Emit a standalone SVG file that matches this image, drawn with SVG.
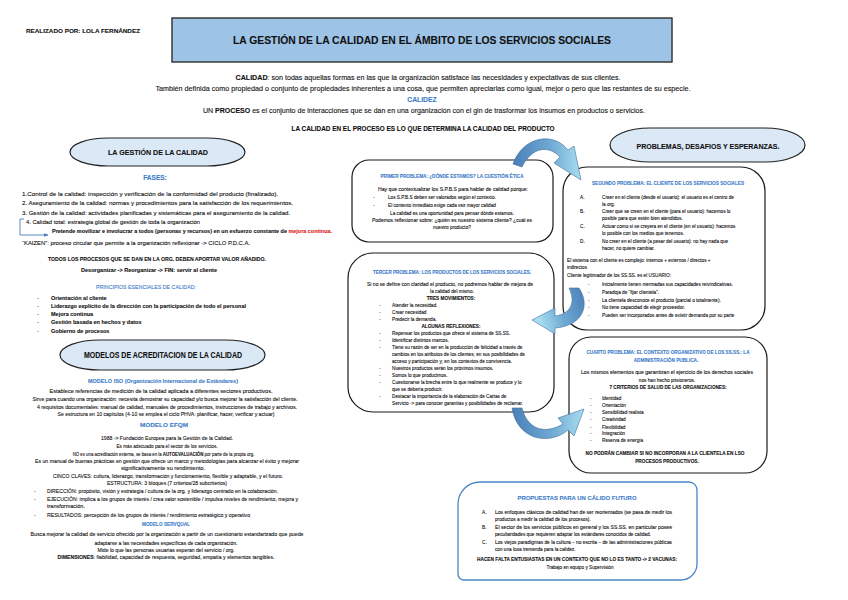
<svg xmlns="http://www.w3.org/2000/svg" width="848" height="600" viewBox="0 0 848 600">
<defs>
<style>
.t{font-family:"Liberation Sans",Arial,sans-serif;fill:#111;stroke:#111;stroke-width:0.1}
.l{font-size:5.5px}
.x{font-size:4.7px}
.b{font-weight:bold}
.bl{fill:#3d7cc9;stroke:#3d7cc9;font-weight:bold}
.c{text-anchor:middle}
.red{fill:#e0201b;stroke:#e0201b}
.pill{fill:#dbe8f5;stroke:#222;stroke-width:1.2}
.box{fill:#fff;stroke:#1a1a1a;stroke-width:1.2}
.arr{stroke:#41719c;stroke-width:0.6}
</style>
<linearGradient id="gR" x1="0" y1="0" x2="1" y2="0">
<stop offset="0" stop-color="#4a7fb8"/><stop offset="0.55" stop-color="#6fa9d3"/><stop offset="1" stop-color="#a8def0"/>
</linearGradient>
<linearGradient id="gL" x1="1" y1="0" x2="0" y2="0.3">
<stop offset="0" stop-color="#4a7fb8"/><stop offset="0.55" stop-color="#6fa9d3"/><stop offset="1" stop-color="#a8def0"/>
</linearGradient>
<marker id="ah" viewBox="0 0 10 10" refX="9" refY="5" markerWidth="5" markerHeight="5" orient="auto">
<path d="M0,1 L10,5 L0,9 Z" fill="#4a7ebb"/>
</marker>
</defs>
<rect width="848" height="600" fill="#fff"/>

<g id="header">
<text class="t b" x="26" y="33" font-size="6.2" textLength="114" lengthAdjust="spacingAndGlyphs">REALIZADO POR: LOLA FERNÁNDEZ</text>
</g>

<g id="title">
<rect x="172" y="18" width="500" height="44" fill="#9dc3e6" stroke="#3a3a3a" stroke-width="1.5"/>
<text class="t b c" x="422" y="44" font-size="11.5" textLength="378" lengthAdjust="spacingAndGlyphs">LA GESTIÓN DE LA CALIDAD EN EL ÁMBITO DE LOS SERVICIOS SOCIALES</text>
</g>

<g id="intro" class="t c" font-size="6.8">
<text x="428" y="80" textLength="385" lengthAdjust="spacingAndGlyphs"><tspan class="b">CALIDAD</tspan>: son todas aquellas formas en las que la organización satisface las necesidades y expectativas de sus clientes.</text>
<text x="423" y="91" textLength="535" lengthAdjust="spacingAndGlyphs">También definida como propiedad o conjunto de propiedades inherentes a una cosa, que permiten apreciarlas como igual, mejor o pero que las restantes de su especie.</text>
<text class="bl" x="422" y="102">CALIDEZ</text>
<text x="424" y="113" textLength="442" lengthAdjust="spacingAndGlyphs">UN <tspan class="b">PROCESO</tspan> es el conjunto de interacciones que se dan en una organización con el gin de trasformar los insumos en productos o servicios.</text>
<text class="b" x="423" y="131" textLength="263" lengthAdjust="spacingAndGlyphs">LA CALIDAD EN EL PROCESO ES LO QUE DETERMINA LA CALIDAD DEL PRODUCTO</text>
</g>

<g id="gestion-pill">
<rect class="pill" x="70" y="138" width="175" height="28" rx="38" ry="14"/>
<text class="t b c" x="158" y="155" font-size="8" textLength="100" lengthAdjust="spacingAndGlyphs">LA GESTIÓN DE LA CALIDAD</text>
</g>

<g id="fases" class="t l">
<text class="bl c" x="155" y="180" font-size="6.5">FASES:</text>
<text x="22" y="196" textLength="256" lengthAdjust="spacingAndGlyphs">1.Control de la calidad: inspección y verificación de la conformidad del producto (finalizado).</text>
<text x="22" y="205" textLength="271" lengthAdjust="spacingAndGlyphs">2. Aseguramiento de la calidad: normas y procedimientos para la satisfacción de los requerimientos.</text>
<text x="22" y="215" textLength="268" lengthAdjust="spacingAndGlyphs">3. Gestión de la calidad: actividades planificadas y sistemáticas para el aseguramiento de la calidad.</text>
<text x="26" y="224" textLength="174" lengthAdjust="spacingAndGlyphs">4. Calidad total: estrategia global de gestión de toda la organización</text>
<text class="b" x="52" y="233" textLength="280" lengthAdjust="spacingAndGlyphs">Pretende movilizar e involucrar a todos (personas y recursos) en un esfuerzo constante de <tspan class="red">mejora continua.</tspan></text>
<text x="22" y="245" textLength="228" lengthAdjust="spacingAndGlyphs">“KAIZEN”: proceso circular que permite a la organización reflexionar -&gt; CICLO P.D.C.A.</text>
<text class="b c" x="157" y="261" textLength="218" lengthAdjust="spacingAndGlyphs">TODOS LOS PROCESOS QUE SE DAN EN LA ORG. DEBEN APORTAR VALOR AÑADIDO.</text>
<text class="b c" x="149" y="272" textLength="136" lengthAdjust="spacingAndGlyphs">Desorganizar -&gt; Reorganizar -&gt; FIN: servir al cliente</text>
</g>

<g id="principios" class="t l">
<text class="bl c" x="146" y="289" style="font-weight:normal" textLength="100" lengthAdjust="spacingAndGlyphs">PRINCIPIOS ESENCIALES DE CALIDAD:</text>
<text x="37" y="300">-</text><text class="b" x="51" y="300">Orientación al cliente</text>
<text x="37" y="308">-</text><text class="b" x="51" y="308" textLength="195" lengthAdjust="spacingAndGlyphs">Liderazgo explícito de la dirección con la participación de todo el personal</text>
<text x="37" y="316">-</text><text class="b" x="51" y="316">Mejora continua</text>
<text x="37" y="324">-</text><text class="b" x="51" y="324">Gestión basada en hechos y datos</text>
<text x="37" y="333">-</text><text class="b" x="51" y="333">Gobierno de procesos</text>
</g>

<g id="modelos-pill">
<rect class="pill" x="60" y="340" width="205" height="30" rx="40" ry="15"/>
<text class="t b c" x="163" y="358" font-size="8.5" textLength="158" lengthAdjust="spacingAndGlyphs">MODELOS DE ACREDITACION DE LA CALIDAD</text>
</g>

<g id="modelos" class="t l c">
<text class="bl" x="163" y="383" textLength="150" lengthAdjust="spacingAndGlyphs">MODELO ISO (Organización Internacional de Estándares)</text>
<text x="161" y="393" textLength="223" lengthAdjust="spacingAndGlyphs">Establece referencias de medición de la calidad aplicada a diferentes sectores productivos.</text>
<text x="165" y="401" textLength="265" lengthAdjust="spacingAndGlyphs">Sirve para cuando una organización: necesita demostrar su capacidad y/o busca mejorar la satisfacción del cliente.</text>
<text x="167" y="409" textLength="260" lengthAdjust="spacingAndGlyphs">4 requisitos documentales: manual de calidad, manuales de procedimientos, instrucciones de trabajo y archivos.</text>
<text x="166" y="416" textLength="217" lengthAdjust="spacingAndGlyphs">Se estructura en 10 capítulos (4-10 se emplea el ciclo PHVA: planificar, hacer, verificar y actuar)</text>
<text class="bl" x="164" y="427" textLength="48" lengthAdjust="spacingAndGlyphs">MODELO EFQM</text>
<text x="167" y="440" textLength="132" lengthAdjust="spacingAndGlyphs">1988 -&gt; Fundación Europea para la Gestión de la Calidad.</text>
<text x="167" y="448" textLength="101" lengthAdjust="spacingAndGlyphs">Es más adecuado para el sector de los servicios.</text>
<text transform="translate(163.5,456) scale(0.79,1)">NO es una acreditación externa, se basa en la <tspan class="b">AUTOEVALUACIÓN</tspan> por parte de la propia org.</text>
<text x="167" y="463" textLength="264" lengthAdjust="spacingAndGlyphs">Es un manual de buenas prácticas en gestión que ofrece un marco y metodologías para alcanzar el éxito y mejorar</text>
<text x="163" y="470" textLength="84" lengthAdjust="spacingAndGlyphs">significativamente su rendimiento.</text>
<text x="168" y="478" textLength="230" lengthAdjust="spacingAndGlyphs">CINCO CLAVES: cultura, liderazgo, transformación y funcionamiento, flexible y adaptable, y el futuro.</text>
<text x="167" y="485" textLength="120" lengthAdjust="spacingAndGlyphs">ESTRUCTURA: 3 bloques (7 criterios/28 subcriterios)</text>
<text class="bl" x="166" y="526" textLength="48" lengthAdjust="spacingAndGlyphs">MODELO SERVQUAL</text>
<text x="167" y="536" textLength="273" lengthAdjust="spacingAndGlyphs">Busca mejorar la calidad de servicio ofrecido por la organización a partir de un cuestionario estandarizado que puede</text>
<text x="166" y="545" textLength="143" lengthAdjust="spacingAndGlyphs">adaptarse a las necesidades específicas de cada organización.</text>
<text x="166" y="552" textLength="137" lengthAdjust="spacingAndGlyphs">Mide lo que las personas usuarias esperan del servicio / org.</text>
<text x="166" y="559" textLength="217" lengthAdjust="spacingAndGlyphs"><tspan class="b">DIMENSIONES</tspan>: fiabilidad, capacidad de respuesta, seguridad, empatía y elementos tangibles.</text>
</g>
<g id="efqm-list" class="t l">
<text x="34" y="493">-</text><text x="47" y="493" textLength="231" lengthAdjust="spacingAndGlyphs">DIRECCIÓN: propósito, visión y estrategia / cultura de la org. y liderazgo centrado en la colaboración.</text>
<text x="34" y="501">-</text><text x="47" y="501" textLength="251" lengthAdjust="spacingAndGlyphs">EJECUCIÓN: implica a los grupos de interés / crea valor sostenible / impulsa niveles de rendimiento, mejora y</text>
<text x="47" y="508">transformación.</text>
<text x="34" y="517">-</text><text x="47" y="517" textLength="203" lengthAdjust="spacingAndGlyphs">RESULTADOS: percepción de los grupos de interés / rendimiento estratégico y operativo</text>
</g>

<g id="problemas-pill">
<rect class="pill" x="610" y="128" width="195" height="34" rx="40" ry="17"/>
<text class="t b c" x="708" y="149" font-size="8" textLength="143" lengthAdjust="spacingAndGlyphs">PROBLEMAS, DESAFIOS Y ESPERANZAS.</text>
</g>

<g id="problema1" class="t x">
<rect class="box" x="352" y="160" width="201" height="82" rx="17"/>
<text class="bl c" x="452" y="178" textLength="143" lengthAdjust="spacingAndGlyphs">PRIMER PROBLEMA: ¿DÓNDE ESTAMOS? LA CUESTIÓN ÉTICA</text>
<text class="c" x="453" y="191" textLength="150" lengthAdjust="spacingAndGlyphs">Hay que contextualizar los S.P.B.S para hablar de calidad porque:</text>
<text x="373" y="199">-</text><text x="388" y="199">Los S.P.B.S deben ser valorados según el contexto.</text>
<text x="373" y="207">-</text><text x="388" y="207">El contexto inmediato exige cada vez mayor calidad</text>
<text class="c" x="452" y="215">La calidad es una oportunidad para pensar dónde estamos.</text>
<text class="c" x="452" y="222" textLength="160" lengthAdjust="spacingAndGlyphs">Podemos reflexionar sobre: ¿quién es nuestro sistema cliente? ¿cuál es</text>
<text class="c" x="452" y="229">nuestro producto?</text>
</g>

<g id="problema2" class="t x">
<rect class="box" x="563" y="167" width="202" height="163" rx="24"/>
<text class="bl" x="592" y="185" textLength="152" lengthAdjust="spacingAndGlyphs">SEGUNDO PROBLEMA: EL CLIENTE DE LOS SERVICIOS SOCIALES</text>
<text x="580" y="199">A.</text><text x="602" y="199">Creer en el cliente (desde el usuario): el usuario es el centro de</text>
<text x="602" y="206">la org.</text>
<text x="580" y="213">B.</text><text x="602" y="213">Creer que se creen en el cliente (para el usuario): hacemos lo</text>
<text x="602" y="220">posible para que estén bien atendidos.</text>
<text x="580" y="228">C.</text><text x="602" y="228">Actuar como si se creyera en el cliente (en el usuario): hacemos</text>
<text x="602" y="235">lo posible con los medios que tenemos.</text>
<text x="580" y="243">D.</text><text x="602" y="243">No creer en el cliente (a pesar del usuario): no hay nada que</text>
<text x="602" y="250">hacer, no quiere cambiar.</text>
<text x="567" y="262">El sistema con el cliente es complejo: internos + externos / directos +</text>
<text x="567" y="269">indirectos</text>
<text x="567" y="277">Cliente legitimador de los SS.SS. es el USUARIO:</text>
<text x="588" y="286">-</text><text x="602" y="286">Inicialmente tienen mermadas sus capacidades reivindicativas.</text>
<text x="588" y="294">-</text><text x="602" y="294">Paradoja de “fijar clientela”.</text>
<text x="588" y="302">-</text><text x="602" y="302">La clientela desconoce el producto (parcial o totalmente).</text>
<text x="588" y="309">-</text><text x="602" y="309">No tiene capacidad de elegir proveedor.</text>
<text x="588" y="317">-</text><text x="602" y="317">Pueden ser incorporados antes de existir demanda por su parte</text>
</g>

<g id="problema3" class="t x">
<rect class="box" x="348" y="253" width="206" height="159" rx="25"/>
<text class="bl c" x="452" y="274" textLength="158" lengthAdjust="spacingAndGlyphs">TERCER PROBLEMA: LOS PRODUCTOS DE LOS SERVICIOS SOCIALES.</text>
<text class="c" x="450" y="286" textLength="166" lengthAdjust="spacingAndGlyphs">Si no se define con claridad el producto, no podremos hablar de mejora de</text>
<text class="c" x="452" y="293">la calidad del mismo.</text>
<text class="c b" x="451" y="300">TRES MOVIMIENTOS:</text>
<text x="379" y="307">-</text><text x="392" y="307">Atender la necesidad.</text>
<text x="379" y="314">-</text><text x="392" y="314">Crear necesidad</text>
<text x="379" y="321">-</text><text x="392" y="321">Predecir la demanda.</text>
<text class="c b" x="451" y="328">ALGUNAS REFLEXIONES:</text>
<text x="379" y="335">-</text><text x="392" y="335">Repensar los productos que ofrece el sistema de SS.SS.</text>
<text x="379" y="342">-</text><text x="392" y="342">Identificar distintos marcos.</text>
<text x="379" y="349">-</text><text x="392" y="349">Tiene su razón de ser en la producción de felicidad a través de</text>
<text x="392" y="356">cambios en los atributos de los clientes; en sus posibilidades de</text>
<text x="392" y="363">acceso y participación y; en los contextos de convivencia.</text>
<text x="379" y="370">-</text><text x="392" y="370">Nuestros productos serán los próximos insumos.</text>
<text x="379" y="377">-</text><text x="392" y="377">Somos lo que producimos.</text>
<text x="379" y="384">-</text><text x="392" y="384">Cuestionarse la brecha entre lo que realmente se produce y lo</text>
<text x="392" y="391">que se debería producir.</text>
<text x="379" y="398">-</text><text x="392" y="398">Destacar la importancia de la elaboración de Cartas de</text>
<text x="392" y="405">Servicio -&gt; para conocer garantías y posibilidades de reclamar.</text>
</g>

<g id="problema4" class="t x">
<rect class="box" x="569" y="337" width="198" height="136" rx="22"/>
<text class="bl c" x="668" y="354" textLength="163" lengthAdjust="spacingAndGlyphs">CUARTO PROBLEMA: EL CONTEXTO ORGANIZATIVO DE LOS SS.SS.: LA</text>
<text class="bl c" x="666" y="362">ADMINISTRACIÓN PUBLICA.</text>
<text class="c" x="667" y="374" textLength="172" lengthAdjust="spacingAndGlyphs">Los mismos elementos que garantizan el ejercicio de los derechos sociales</text>
<text class="c" x="667" y="382">nos han hecho prisioneros.</text>
<text class="c b" x="668" y="389" textLength="117" lengthAdjust="spacingAndGlyphs">7 CRITERIOS DE SALUD DE LAS ORGANIZACIONES:</text>
<text x="590" y="400">-</text><text x="602" y="400">Identidad</text>
<text x="590" y="407">-</text><text x="602" y="407">Orientación</text>
<text x="590" y="414">-</text><text x="602" y="414">Sensibilidad realista</text>
<text x="590" y="421">-</text><text x="602" y="421">Creatividad</text>
<text x="590" y="429">-</text><text x="602" y="429">Flexibilidad</text>
<text x="590" y="435">-</text><text x="602" y="435">Integración</text>
<text x="590" y="442">-</text><text x="602" y="442">Reserva de energía</text>
<text class="c b" x="665" y="455" textLength="159" lengthAdjust="spacingAndGlyphs">NO PODRÁN CAMBIAR SI NO INCORPORAN A LA CLIENTELA EN LSO</text>
<text class="c b" x="667" y="463">PROCESOS PRODUCTIVOS.</text>
</g>

<g id="propuestas" class="t x">
<path d="M480,482 H689 A8,8 0 0 1 697,490 V564 A16,16 0 0 1 681,580 H464 A6,6 0 0 1 458,574 V504 A22,22 0 0 1 480,482 Z" fill="#fff" stroke="#4a86c8" stroke-width="1.3"/>
<text class="bl c" x="577" y="500" font-size="6" textLength="119" lengthAdjust="spacingAndGlyphs">PROPUESTAS PARA UN CÁLIDO FUTURO</text>
<text x="482" y="514">A.</text><text x="495" y="514" textLength="177" lengthAdjust="spacingAndGlyphs">Los enfoques clásicos de calidad han de ser reorientados (se pasa de medir los</text>
<text x="495" y="521">productos a medir la calidad de los procesos).</text>
<text x="482" y="529">B.</text><text x="495" y="529" textLength="177" lengthAdjust="spacingAndGlyphs">El sector de los servicios públicos en general y los SS.SS. en particular posee</text>
<text x="495" y="536">peculiaridades que requieren adaptar los estándares conocidos de calidad.</text>
<text x="482" y="544">C.</text><text x="495" y="544" textLength="177" lengthAdjust="spacingAndGlyphs">Los viejos paradigmas de la cultura – no escrita – de las administraciones públicas</text>
<text x="495" y="551">con una losa tremenda para la calidez.</text>
<text class="c b" x="577" y="561" textLength="200" lengthAdjust="spacingAndGlyphs">HACEN FALTA ENTUSIASTAS EN UN CONTEXTO QUE NO LO ES TANTO -&gt; 2 VACUNAS:</text>
<text class="c" x="580" y="569">Trabajo en equipo y Supervisión</text>
</g>

<g id="connectors">
<path d="M24,219 H20 V235 H48" fill="none" stroke="#4a7ebb" stroke-width="0.9" marker-end="url(#ah)"/>
<path class="arr" fill="url(#gR)" d="M513,164 C522,138 552,130 568,150 L574,146 L581,180 L554,163 L560,157 C548,144 531,148 522,167 Z"/>
<path class="arr" fill="url(#gL)" d="M579,288 C591,306 582,326 555,328 L555,334 L532,320 L555,308 L555,316 C571,314 576,302 569,288 Z"/>
<path class="arr" fill="url(#gR)" d="M512,408 C517,440 549,446 568,430 L574,436 L584,409 L558,418 L563,424 C546,434 528,431 522,408 Z"/>
</g>
</svg>
